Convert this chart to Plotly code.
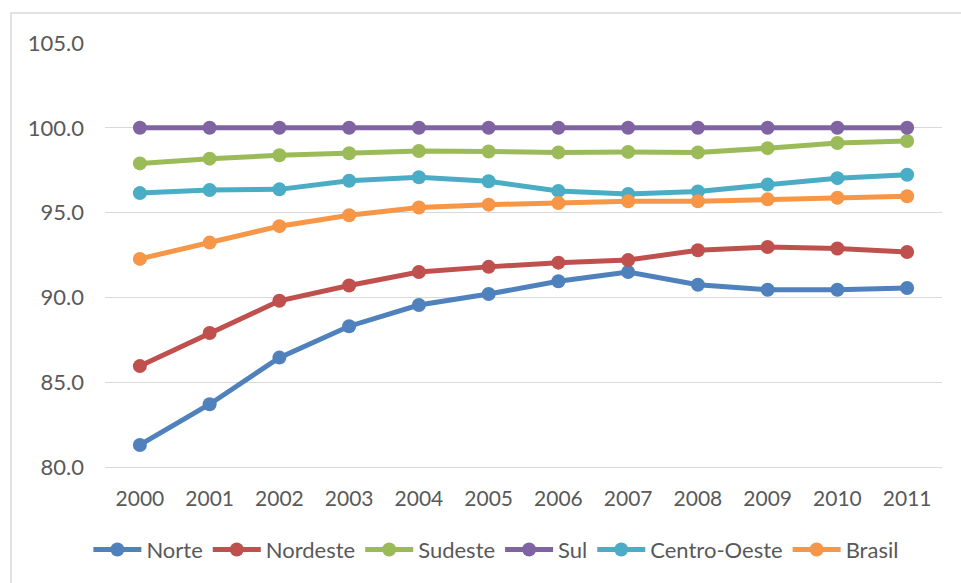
import plotly.graph_objects as go

years = [2000, 2001, 2002, 2003, 2004, 2005, 2006, 2007, 2008, 2009, 2010, 2011]

norte = [81.3, 83.7, 86.45, 88.3, 89.55, 90.2, 90.95, 91.5, 90.75, 90.45, 90.45, 90.55]
nordeste = [85.95, 87.9, 89.8, 90.7, 91.5, 91.8, 92.05, 92.2, 92.78, 92.97, 92.88, 92.68]
sudeste = [97.9, 98.18, 98.38, 98.5, 98.63, 98.6, 98.55, 98.58, 98.55, 98.8, 99.1, 99.22]
sul = [100.0] * 12
centro_oeste = [96.15, 96.33, 96.37, 96.88, 97.08, 96.85, 96.28, 96.1, 96.25, 96.65, 97.03, 97.23]
brasil = [92.27, 93.23, 94.2, 94.84, 95.3, 95.47, 95.57, 95.67, 95.67, 95.78, 95.88, 95.96]

series = [
    ("Norte", norte, "#4F81BD"),
    ("Nordeste", nordeste, "#C0504D"),
    ("Sudeste", sudeste, "#9BBB59"),
    ("Sul", sul, "#8064A2"),
    ("Centro-Oeste", centro_oeste, "#4BACC6"),
    ("Brasil", brasil, "#F79646"),
]

fig = go.Figure()
for name, vals, color in series:
    fig.add_trace(go.Scatter(
        x=[str(y) for y in years], y=vals, name=name, mode="lines+markers",
        line=dict(color=color, width=5),
        marker=dict(color=color, size=14),
    ))

font_color = "#595959"
fig.update_layout(
    width=961, height=583,
    margin=dict(l=105, r=19, t=43, b=116),
    paper_bgcolor="white", plot_bgcolor="white",
    font=dict(family="Lato", size=21, color=font_color),
    showlegend=True,
    legend=dict(orientation="h", x=0.467, xanchor="center", y=-0.195, yanchor="middle",
                font=dict(size=22, color=font_color), itemwidth=48,
                traceorder="normal", tracegroupgap=0),
    xaxis=dict(type="category", range=[-0.5, 11.5], showgrid=False,
               showline=True, linecolor="#D9D9D9", linewidth=1,
               ticks="", ticklabelstandoff=13, tickfont=dict(size=21, color=font_color)),
    yaxis=dict(range=[80, 105], dtick=5, tickformat=".1f", showgrid=True,
               gridcolor="#D9D9D9", gridwidth=1, zeroline=False, showline=False,
               ticks="", ticklabelstandoff=20, tickfont=dict(size=22, color=font_color)),
    shapes=[dict(type="rect", xref="paper", yref="paper",
                 x0=-0.1123, x1=1.05, y0=-0.4, y1=1.0708,
                 line=dict(color="#D9D9D9", width=1.5), layer="below")],
)

fig.write_html("out.html")
